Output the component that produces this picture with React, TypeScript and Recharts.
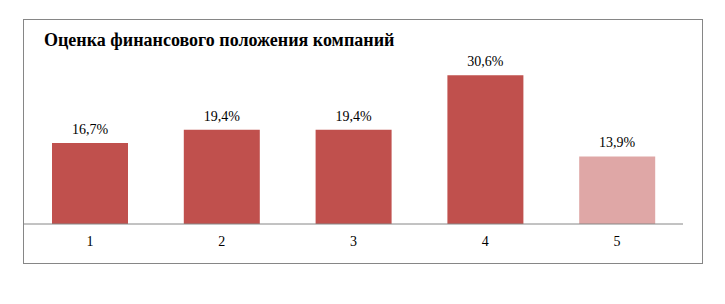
import React from "react";
import { BarChart, Bar, XAxis, YAxis, Cell, LabelList } from "recharts";

const categories = ["1", "2", "3", "4", "5"];
const shares = [16.7, 19.4, 19.4, 30.6, 13.9];
const barColors = ["#C0504D", "#C0504D", "#C0504D", "#C0504D", "#DFA7A6"];

const data = categories.map((name, i) => ({ name, value: shares[i], fill: barColors[i] }));

const serif = "Liberation Serif";

export default function App() {
  return (
    <div
      style={{
        position: "relative",
        marginLeft: 15,
        marginTop: 11,
        width: 680,
        height: 245,
        border: "1px solid #868686",
        boxSizing: "border-box",
        fontFamily: serif,
      }}
    >
      <div
        style={{
          position: "absolute",
          left: 20,
          top: 10,
          fontSize: 18,
          fontWeight: "bold",
          fontFamily: serif,
          color: "#000",
          whiteSpace: "nowrap",
        }}
      >
        Оценка финансового положения компаний
      </div>
      <BarChart
        width={678}
        height={243}
        data={data}
        margin={{ top: 34, right: 19, bottom: 0, left: 0 }}
        style={{ fontFamily: serif }}
      >
        <XAxis
          dataKey="name"
          height={39}
          tickLine={false}
          tickSize={6}
          tickMargin={6}
          axisLine={{ stroke: "#868686" }}
          tick={{ fontSize: 14, fill: "#000", fontFamily: serif }}
        />
        <YAxis hide domain={[0, 35]} />
        <Bar dataKey="value" barSize={76} isAnimationActive={false}>
          {data.map((entry, index) => (
            <Cell key={`cell-${index}`} fill={entry.fill} />
          ))}
          <LabelList
            dataKey="value"
            position="top"
            offset={9}
            fontFamily={serif}
            fontSize={14}
            fill="#000"
            formatter={(v) => `${Number(v).toFixed(1).replace(".", ",")}%`}
          />
        </Bar>
      </BarChart>
    </div>
  );
}
